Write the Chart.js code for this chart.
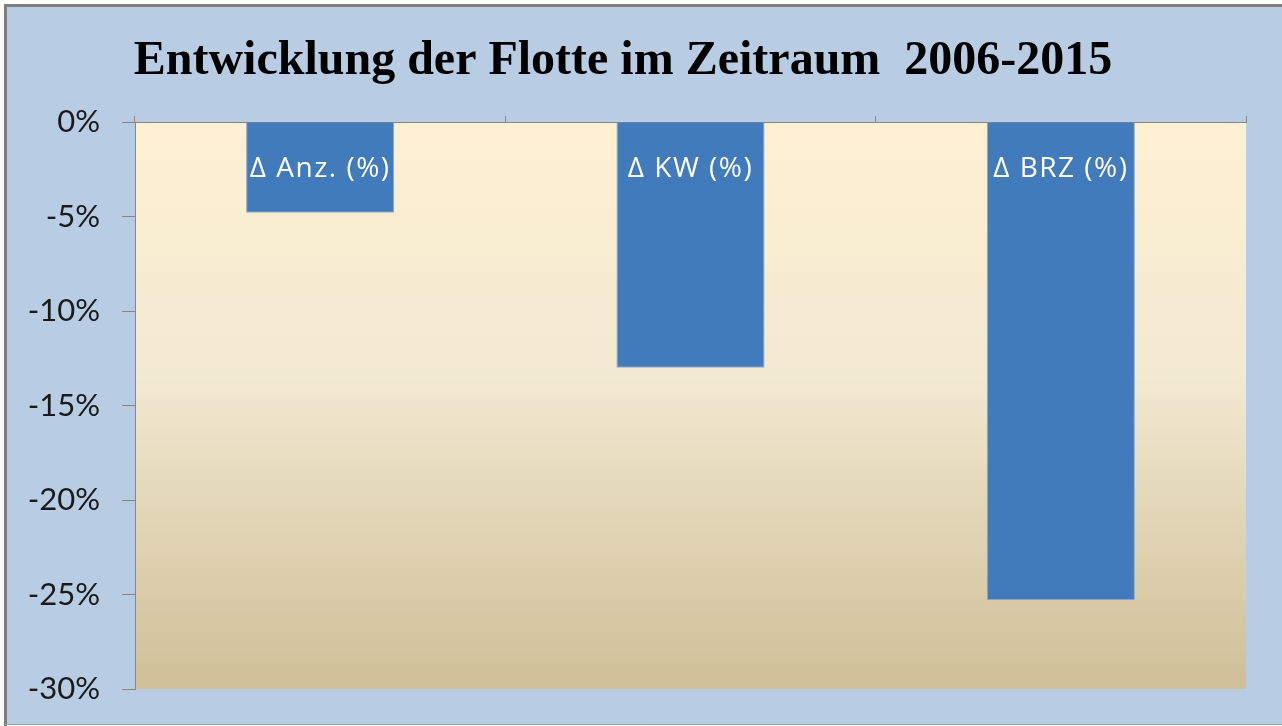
<!DOCTYPE html>
<html>
<head>
<meta charset="utf-8">
<script src="https://cdn.jsdelivr.net/npm/chart.js@4"></script>
<style>
  html, body { margin: 0; padding: 0; background: #fff; }
  #wrap { width: 1282px; height: 726px; }
</style>
</head>
<body>
<div id="wrap"><canvas id="c" width="1282" height="726"></canvas></div>
<script>
const categories = ['\u0394 Anz. (%)', '\u0394 KW (%)', '\u0394 BRZ (%)'];
const changePct = [-4.8, -13.0, -25.3];
const yTicks = [0, -5, -10, -15, -20, -25, -30];

/* frame, blue backdrop and the beige gradient behind the bars */
const backdrop = {
  id: 'backdrop',
  beforeDraw(chart) {
    const { ctx, chartArea: a, width, height } = chart;
    ctx.save();
    ctx.fillStyle = '#ffffff';
    ctx.fillRect(0, 0, width, height);
    ctx.fillStyle = '#b8cce4';
    ctx.fillRect(5, 5, width - 5, height - 6);
    ctx.strokeStyle = '#7f7f7f';
    ctx.lineWidth = 3;
    ctx.beginPath();
    ctx.moveTo(5.5, height);
    ctx.lineTo(5.5, 5.5);
    ctx.lineTo(width, 5.5);
    ctx.stroke();
    ctx.strokeStyle = '#9aa6b8';
    ctx.lineWidth = 1;
    ctx.beginPath();
    ctx.moveTo(5, height - 1.5);
    ctx.lineTo(width, height - 1.5);
    ctx.stroke();
    const g = ctx.createLinearGradient(0, a.top, 0, a.bottom);
    g.addColorStop(0, '#fff0d3');
    g.addColorStop(0.45, '#f2e9d1');
    g.addColorStop(1, '#cfbe97');
    ctx.fillStyle = g;
    ctx.fillRect(a.left, a.top, a.right - a.left, a.bottom - a.top);
    ctx.restore();
  }
};

/* category names written inside the top of each bar */
const barLabels = {
  id: 'barLabels',
  afterDatasetsDraw(chart) {
    const { ctx } = chart;
    const meta = chart.getDatasetMeta(0);
    ctx.save();
    ctx.fillStyle = '#ffffff';
    ctx.font = '28px "Open Sans", Lato, sans-serif';
    if ('letterSpacing' in ctx) ctx.letterSpacing = '1.5px';
    ctx.textAlign = 'center';
    ctx.textBaseline = 'middle';
    meta.data.forEach((bar, i) => {
      ctx.fillText(chart.data.labels[i], bar.x, chart.chartArea.top + 47);
    });
    ctx.restore();
  }
};

new Chart(document.getElementById('c'), {
  type: 'bar',
  data: {
    labels: categories,
    datasets: [{
      data: changePct,
      backgroundColor: '#417bbc',
      borderColor: '#8eaacb',
      borderWidth: 1,
      barPercentage: 0.4,
      categoryPercentage: 1
    }]
  },
  options: {
    responsive: false,
    animation: false,
    layout: { padding: { left: 0, right: 36, top: 0, bottom: 37 } },
    plugins: {
      legend: { display: false },
      tooltip: { enabled: false },
      title: {
        display: true,
        text: 'Entwicklung der Flotte im Zeitraum  2006-2015',
        color: '#000000',
        font: { family: '"Liberation Serif", "Times New Roman", serif', size: 48, weight: 'bold', lineHeight: 1.2 },
        padding: { top: 33, bottom: 0 }
      }
    },
    scales: {
      x: {
        position: 'top',
        grid: { drawOnChartArea: false, color: '#868686', tickLength: 6, offset: true },
        border: { display: true, color: '#868686', width: 1 },
        ticks: { display: false },
        afterFit(scale) { scale.height = 122 - (33 + 48 * 1.2); }
      },
      y: {
        min: -30,
        max: 0,
        afterBuildTicks(scale) { scale.ticks = yTicks.map(v => ({ value: v })); },
        grid: { drawOnChartArea: false, color: '#868686', tickLength: 13 },
        border: { display: true, color: '#868686', width: 1 },
        ticks: {
          color: '#1a1a1a',
          padding: 22,
          font: { family: 'Lato, "Open Sans", sans-serif', size: 31 },
          callback: v => v + '%'
        },
        afterFit(scale) {
          scale.width = 135;
          scale.paddingTop = 0;
          scale.paddingBottom = 0;
        }
      }
    }
  },
  plugins: [backdrop, barLabels]
});
</script>
</body>
</html>
